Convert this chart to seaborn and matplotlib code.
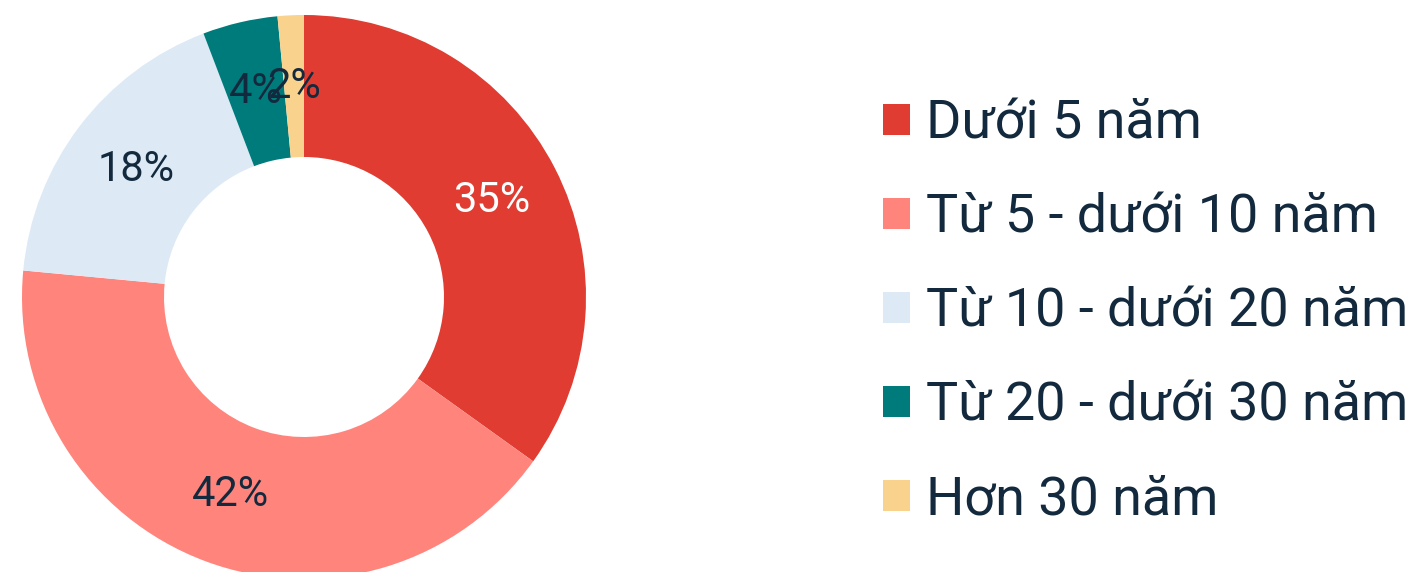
import matplotlib
matplotlib.use("Agg")
import matplotlib.pyplot as plt
import matplotlib.patches as mpatches
import seaborn as sns

categories = ["Dưới 5 năm", "Từ 5 - dưới 10 năm", "Từ 10 - dưới 20 năm",
              "Từ 20 - dưới 30 năm", "Hơn 30 năm"]
shares = [34.9, 41.6, 17.7, 4.3, 1.5]
pct_labels = ["35%", "42%", "18%", "4%", "2%"]
colors = ["#E03C31", "#FF847C", "#DDEAF5", "#007B7C", "#F9D38D"]
label_colors = ["white", "#13293D", "#13293D", "#13293D", "#13293D"]

sns.set_theme(style="white")
plt.rcParams["font.family"] = ["Roboto", "DejaVu Sans"]
text_col = "#13293D"

W, H = 1416, 572
fig = plt.figure(figsize=(W / 100, H / 100), dpi=100)
fig.patch.set_facecolor("white")

# donut: centre (304, 297) px, outer radius 282 px, inner 140 px
cx, cy, R = 304, 297, 282
ax = fig.add_axes([(cx - R) / W, (H - cy - R) / H, 2 * R / W, 2 * R / H])

width = 1 - 140 / 282
wedges, texts = ax.pie(shares, colors=colors, startangle=90, counterclock=False,
                       radius=1, wedgeprops=dict(width=width, linewidth=0),
                       labels=pct_labels, labeldistance=1 - width / 2,
                       textprops=dict(fontsize=30, ha="center", va="center"))
for t, c in zip(texts, label_colors):
    t.set_color(c)
    t.set_horizontalalignment("center")
# pie() resets the limits to +-1.25, put them back
ax.set_xlim(-1, 1)
ax.set_ylim(-1, 1)
ax.set_aspect("equal")
ax.axis("off")

handles = [mpatches.Patch(facecolor=c, edgecolor="none") for c in colors]
leg = fig.legend(handles, categories, loc="center left",
                 bbox_to_anchor=(883 / W, 1 - 312 / H), frameon=False,
                 fontsize=38.8, handlelength=0.5, handleheight=0.5,
                 handletextpad=0.3, labelspacing=0.8, borderpad=0,
                 borderaxespad=0)
for t in leg.get_texts():
    t.set_color(text_col)

fig.savefig("out.png", dpi=100, facecolor="white")
